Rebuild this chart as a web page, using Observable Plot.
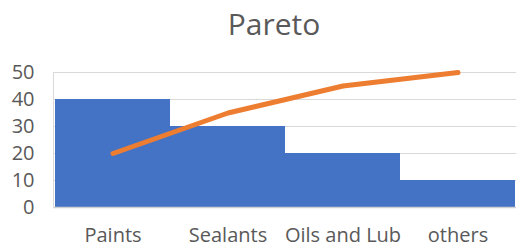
<!DOCTYPE html>
<html>
<head>
<meta charset="utf-8">
<script src="https://cdn.jsdelivr.net/npm/d3@7"></script>
<script src="https://cdn.jsdelivr.net/npm/@observablehq/plot@0.6"></script>
<style>
  html, body { margin: 0; padding: 0; background: #fff; overflow: hidden; }
  #title { width: 516px; height: 50px; box-sizing: border-box; padding-left: 32px; text-align: center;
    font-family: "Open Sans", sans-serif; font-size: 30px; color: #595959; line-height: 48px; }
  #chart svg { display: block; }
</style>
</head>
<body>
<div id="title">Pareto</div>
<div id="chart"></div>
<script>
const categories = ["Paints", "Sealants", "Oils and Lub", "others"];
const barValues = [40, 30, 20, 10];
const lineValues = [20, 35, 45, 50];
const yTicks = [0, 10, 20, 30, 40, 50];

const data = categories.map((c, i) => ({category: c, bar: barValues[i], cum: lineValues[i]}));

const plot = Plot.plot({
  width: 516,
  height: 199,
  marginTop: 22,
  marginBottom: 42,
  marginLeft: 53,
  marginRight: 0,
  style: {fontFamily: "Open Sans, sans-serif", color: "#595959", background: "#fff"},
  x: {domain: categories, padding: 0, label: null},
  y: {domain: [0, 50], ticks: yTicks, label: null},
  marks: [
    Plot.gridY(yTicks, {stroke: "#d9d9d9", strokeOpacity: 1, strokeWidth: 1}),
    Plot.barY(data, {x: "category", y: "bar", fill: "#4472C4"}),
    Plot.ruleY([0], {stroke: "#d0d0d0", strokeWidth: 1.5}),
    Plot.frame({anchor: "left", stroke: "#d9d9d9"}),
    Plot.lineY(data, {x: "category", y: "cum", stroke: "#ED7D31", strokeWidth: 5, strokeLinecap: "round", strokeLinejoin: "round"}),
    Plot.axisY(yTicks, {tickSize: 0, tickPadding: 19, fontSize: 20, fill: "#595959", label: null}),
    Plot.axisX({tickSize: 0, tickPadding: 20, fontSize: 20, fill: "#595959", label: null})
  ]
});
document.getElementById("chart").appendChild(plot);
</script>
</body>
</html>
